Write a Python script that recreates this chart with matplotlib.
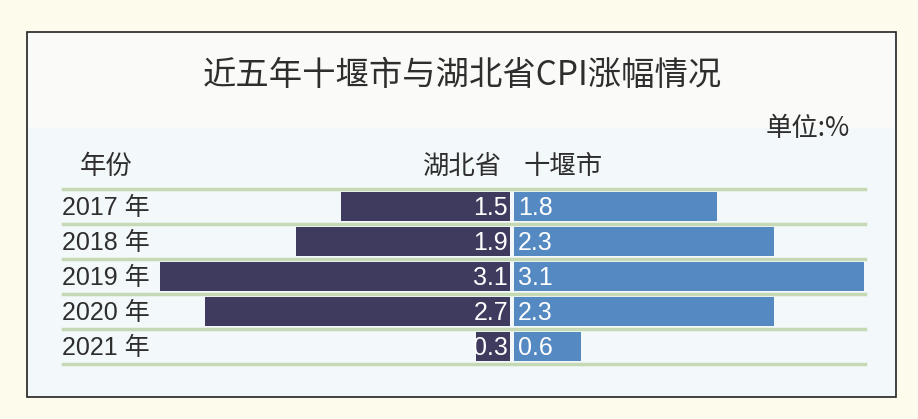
import matplotlib.pyplot as plt
from matplotlib.patches import Rectangle

plt.rcParams['font.family'] = ['Noto Sans CJK SC', 'DejaVu Sans']
num_font = ['Liberation Sans', 'Noto Sans CJK SC']

years = ["2017 年", "2018 年", "2019 年", "2020 年", "2021 年"]
hubei = [1.5, 1.9, 3.1, 2.7, 0.3]
shiyan = [1.8, 2.3, 3.1, 2.3, 0.6]
hubei_labels = ["1.5", "1.9", "3.1", "2.7", "0.3"]
shiyan_labels = ["1.8", "2.3", "3.1", "2.3", "0.6"]

W, H = 918, 419
dark = "#3f3b5e"
blue = "#5589c1"
line_c = "#c5d9b4"
txt = "#2e2e2e"

fig = plt.figure(figsize=(W / 100, H / 100), dpi=100)
fig.patch.set_facecolor("#fdfcec")

def fx(px):
    return px / W

def fy(py):
    return 1 - py / H

# frame and inner background
fig.patches.append(Rectangle((fx(27), fy(397)), fx(896 - 27), (397 - 32) / H,
                             transform=fig.transFigure, facecolor="#f3f8fb",
                             edgecolor="#222222", lw=1.2, zorder=-2))
fig.patches.append(Rectangle((fx(28), fy(128)), fx(894 - 28), (128 - 33) / H,
                             transform=fig.transFigure, facecolor="#fafbf8",
                             edgecolor="none", zorder=-1))

fig.text(fx(462), fy(76), "近五年十堰市与湖北省CPI涨幅情况", ha="center", va="center",
         fontsize=24, color=txt)
fig.text(fx(850), fy(128), "单位:%", ha="right", va="center", fontsize=19, color=txt)
fig.text(fx(80), fy(166), "年份", ha="left", va="center", fontsize=19, color=txt)
fig.text(fx(502), fy(166), "湖北省", ha="right", va="center", fontsize=19, color=txt)
fig.text(fx(524), fy(166), "十堰市", ha="left", va="center", fontsize=19, color=txt)

ax = fig.add_axes([fx(63), fy(364), fx(865 - 63), (364 - 191) / H])
ax.set_zorder(2)
ax.set_xlim(-(512 - 63) / 113, (865 - 512) / 113)
ax.set_ylim(4.5, -0.45)
ax.axis("off")

rows = range(len(years))
gap = 0.015
ax.barh(rows, [-v for v in hubei], left=-gap, height=0.83, color=dark, zorder=2)
ax.barh(rows, shiyan, left=gap, height=0.83, color=blue, zorder=2)

for i in rows:
    ax.axhline(i - 0.5, color=line_c, lw=2.5, zorder=1, clip_on=False)
    ax.text(-0.035, i + 0.03, hubei_labels[i], ha="right", va="center",
            fontsize=18, color="white", family=num_font, zorder=3)
    ax.text(0.05, i + 0.03, shiyan_labels[i], ha="left", va="center",
            fontsize=18, color="white", family=num_font, zorder=3)
    ax.text(-(512 - 62) / 113, i + 0.03, years[i], ha="left", va="center",
            fontsize=18, color=txt, family=num_font, zorder=3)
ax.axhline(len(years) - 0.5, color=line_c, lw=2.5, zorder=1, clip_on=False)

fig.savefig("out.png", dpi=100, facecolor=fig.get_facecolor())
